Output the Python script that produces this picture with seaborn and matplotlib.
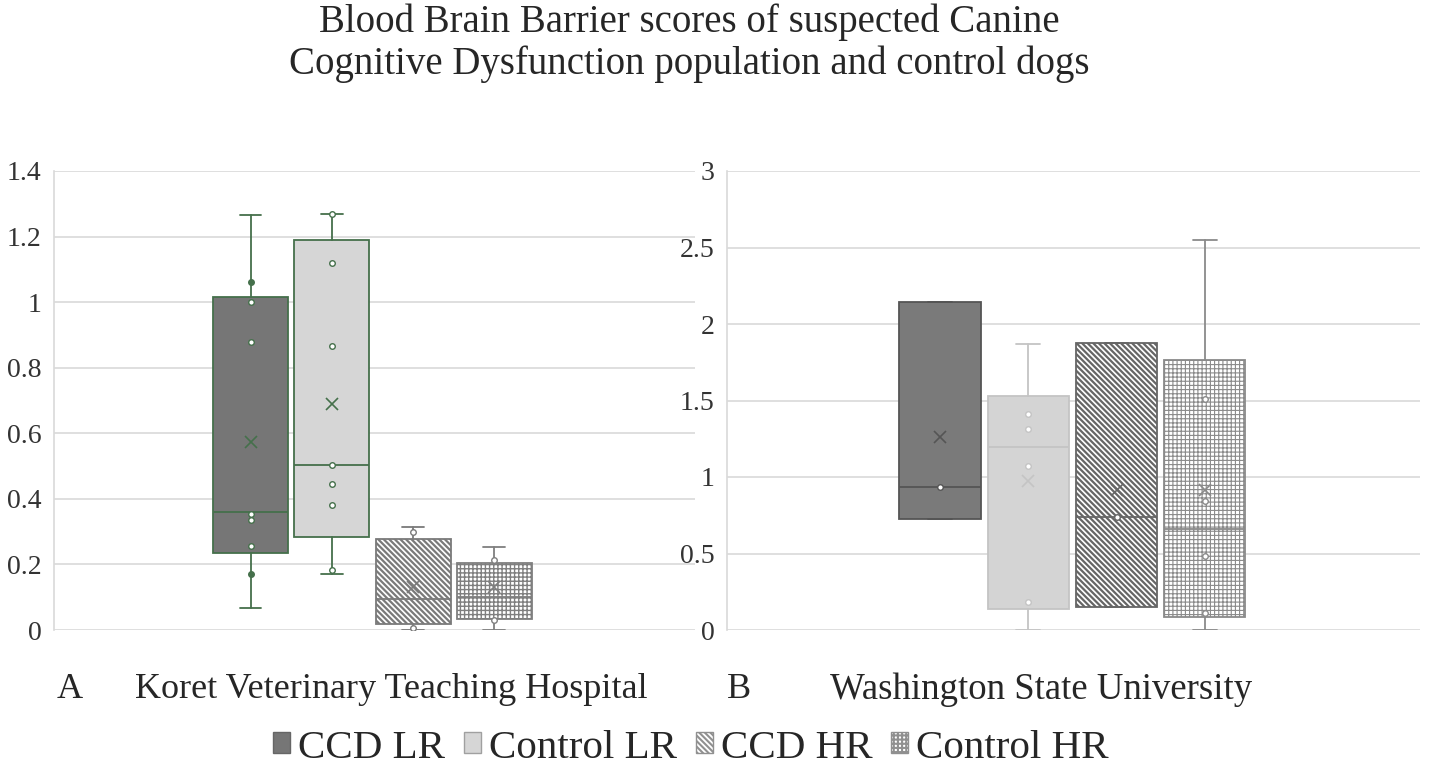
import matplotlib
matplotlib.use('Agg')
import matplotlib.pyplot as plt
from matplotlib.patches import Patch
from matplotlib.ticker import FuncFormatter
import seaborn as sns

groups = ['CCD LR', 'Control LR', 'CCD HR', 'Control HR']

# panel A - Koret Veterinary Teaching Hospital
a_whislo = [0.068, 0.17, 0.0, 0.0]
a_q1 = [0.236, 0.283, 0.017, 0.033]
a_med = [0.36, 0.502, 0.094, 0.10]
a_q3 = [1.017, 1.191, 0.277, 0.205]
a_whishi = [1.266, 1.268, 0.315, 0.252]
a_mean = [0.574, 0.688, 0.13, 0.13]
a_points = [
    [1.0, 0.878, 0.354, 0.335, 0.256],
    [1.268, 1.12, 0.866, 0.502, 0.446, 0.38, 0.184],
    [0.30, 0.005],
    [0.213, 0.03],
]
a_points_filled = [[1.06, 0.172], [], [], []]

# panel B - Washington State University
b_whislo = [0.723, 0.0, 0.152, 0.0]
b_q1 = [0.723, 0.135, 0.152, 0.083]
b_med = [0.935, 1.194, 0.741, 0.66]
b_q3 = [2.142, 1.529, 1.874, 1.765]
b_whishi = [2.142, 1.871, 1.874, 2.549]
b_mean = [1.264, 0.974, 0.915, 0.915]
b_points = [
    [0.935],
    [1.414, 1.316, 1.07, 0.185],
    [0.741],
    [1.51, 0.843, 0.484, 0.109],
]
b_points_filled = [[], [], [], []]

sns.set_style('white')
plt.rcParams['font.family'] = ['Liberation Serif', 'DejaVu Serif']
plt.rcParams['hatch.linewidth'] = 1.5

GRID = '#d9d9d9'


def draw_panel(ax, lo, q1, med, q3, hi, mean, pts, pts_filled, faces, edges, hatches, hatch_lw,
               ymax, step, xlim):
    stats = []
    for i in range(len(groups)):
        stats.append(dict(whislo=lo[i], q1=q1[i], med=med[i], q3=q3[i],
                          whishi=hi[i], mean=mean[i], fliers=[], label=groups[i]))
    art = ax.bxp(stats, positions=range(len(groups)), widths=0.92, capwidths=0.27,
                 patch_artist=True, showmeans=True, meanline=False, showfliers=False)
    for i, box in enumerate(art['boxes']):
        box.set_facecolor(faces[i])
        box.set_edgecolor(edges[i])
        box.set_hatch(hatches[i])
        if hasattr(box, 'set_hatch_linewidth'):
            box.set_hatch_linewidth(hatch_lw[i])
        box.set_linewidth(1.3)
        for ln in art['whiskers'][2 * i:2 * i + 2] + art['caps'][2 * i:2 * i + 2]:
            ln.set_color(edges[i])
            ln.set_linewidth(1.3)
        art['medians'][i].set_color(edges[i])
        art['medians'][i].set_linewidth(1.3)
        art['means'][i].set(marker='x', markeredgecolor=edges[i], markerfacecolor=edges[i],
                            markersize=9, markeredgewidth=1.2)
    for i, g in enumerate(groups):
        if pts[i]:
            sns.stripplot(x=[g] * len(pts[i]), y=pts[i], order=groups, ax=ax, jitter=False,
                          color='white', edgecolor=edges[i], linewidth=1, size=4, zorder=4)
        if pts_filled[i]:
            sns.stripplot(x=[g] * len(pts_filled[i]), y=pts_filled[i], order=groups, ax=ax,
                          jitter=False, color=edges[i], edgecolor=edges[i], linewidth=1,
                          size=4, zorder=4)
    ax.set_xlim(*xlim)
    ax.set_ylim(0, ymax)
    ax.set_xticks([])
    ax.set_xlabel('')
    ax.set_ylabel('')
    ticks = [round(k * step, 2) for k in range(int(round(ymax / step)) + 1)]
    ax.set_yticks(ticks)
    ax.yaxis.set_major_formatter(FuncFormatter(lambda v, p: '{:g}'.format(v)))
    ax.tick_params(axis='y', length=0, pad=9, labelsize=20, labelcolor='#333333')
    ax.yaxis.grid(True, color=GRID, linewidth=1.2)
    ax.set_axisbelow(True)
    for s in ['top', 'right', 'bottom']:
        ax.spines[s].set_visible(False)
    ax.spines['left'].set_color(GRID)
    ax.spines['left'].set_linewidth(1.2)


fig = plt.figure(figsize=(14.3, 7.69), dpi=100)
axA = fig.add_axes([54 / 1430, 139 / 769, (695 - 54) / 1430, 459 / 769])
axB = fig.add_axes([727 / 1430, 139 / 769, (1420 - 727) / 1430, 459 / 769])

green = '#45704b'
draw_panel(axA, a_whislo, a_q1, a_med, a_q3, a_whishi, a_mean, a_points, a_points_filled,
           ['#767676', '#d6d6d6', 'white', 'white'],
           [green, green, '#7a7a7a', '#7f7f7f'],
           ['', '', '\\\\\\\\\\\\', '++++'], [1, 1, 1.6, 1.0], 1.4, 0.2, (-2.417, 5.467))
draw_panel(axB, b_whislo, b_q1, b_med, b_q3, b_whishi, b_mean, b_points, b_points_filled,
           ['#7a7a7a', '#d4d4d4', 'white', 'white'],
           ['#555555', '#c4c4c4', '#666666', '#8a8a8a'],
           ['', '', '\\\\\\\\\\\\', '++++'], [1, 1, 1.6, 0.8], 3, 0.5, (-2.415, 5.44))

fig.text(689 / 1430, 1 - 32 / 769, 'Blood Brain Barrier scores of suspected Canine',
         ha='center', va='baseline', fontsize=28)
fig.text(689 / 1430, 1 - 74 / 769, 'Cognitive Dysfunction population and control dogs',
         ha='center', va='baseline', fontsize=28)

fig.text(57 / 1430, 1 - 690 / 769, 'A', ha='left', va='center', fontsize=26)
fig.text(135 / 1430, 1 - 690 / 769, 'Koret Veterinary Teaching Hospital', ha='left', va='center', fontsize=26)
fig.text(727 / 1430, 1 - 690 / 769, 'B', ha='left', va='center', fontsize=26)
fig.text(830 / 1430, 1 - 690 / 769, 'Washington State University', ha='left', va='center', fontsize=26.5)

handles = [
    Patch(facecolor='#767676', edgecolor='#666666', label='CCD LR'),
    Patch(facecolor='#d6d6d6', edgecolor='#a0a0a0', label='Control LR'),
    Patch(facecolor='white', edgecolor='#909090', hatch='\\\\\\\\\\\\', label='CCD HR'),
    Patch(facecolor='white', edgecolor='#909090', hatch='++++', label='Control HR'),
]
fig.legend(handles=handles, loc='center', bbox_to_anchor=(691 / 1430, 1 - 748 / 769), ncol=4,
           frameon=False, fontsize=29.5, handlelength=0.42, handleheight=0.42,
           handletextpad=0.2, columnspacing=0.45, borderpad=0)

fig.savefig('out.png', dpi=100)
